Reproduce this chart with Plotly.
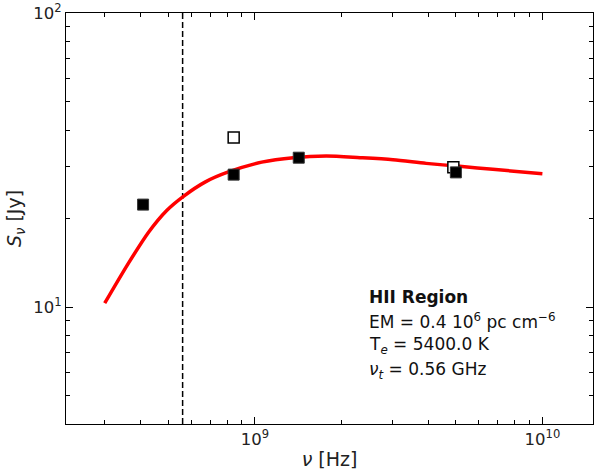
import plotly.graph_objects as go
import math

# Model curve
curve_nu = [3.0e8, 3.63e8, 4.27e8, 4.93e8, 5.64e8, 6.70e8, 8.08e8, 1.055e9, 1.36e9,
            1.77e9, 2.32e9, 3.02e9, 3.94e9, 5.15e9, 6.72e9, 1.0e10]
curve_s = [10.3, 14.1, 18.0, 21.3, 23.8, 26.6, 28.8, 31.1, 32.2,
           32.6, 32.2, 31.7, 30.8, 30.1, 29.4, 28.4]

# Filled data points
filled_nu = [4.08e8, 8.43e8, 1.42e9, 5.0e9]
filled_s = [22.3, 28.2, 32.2, 28.7]

# Open data points
open_nu = [8.43e8, 4.9e9]
open_s = [37.7, 29.9]

nu_t = 5.6e8
y_lim = [4, 100]
x_lim = [2.2e8, 1.5e10]

fig = go.Figure()
fig.add_trace(go.Scatter(x=[nu_t, nu_t], y=y_lim, mode="lines",
                         line=dict(color="black", width=1.5, dash="6px,3px"),
                         showlegend=False, hoverinfo="skip"))
fig.add_trace(go.Scatter(x=curve_nu, y=curve_s, mode="lines",
                         line=dict(color="red", width=3.5, shape="spline", smoothing=0.8),
                         showlegend=False))
fig.add_trace(go.Scatter(x=open_nu, y=open_s, mode="markers",
                         marker=dict(symbol="square", size=11, color="white",
                                     line=dict(color="black", width=1.5)),
                         showlegend=False))
fig.add_trace(go.Scatter(x=filled_nu, y=filled_s, mode="markers",
                         marker=dict(symbol="square", size=11, color="black",
                                     line=dict(color="#333", width=1)),
                         showlegend=False))

x_minor = [k * 10**e for e in (8, 9) for k in range(2, 10)]
x_minor = [v for v in x_minor if x_lim[0] <= v <= x_lim[1]]
y_minor = [k * 10**e for e in (0, 1) for k in range(2, 10)]
y_minor = [v for v in y_minor if y_lim[0] <= v <= y_lim[1]]

tickfont = dict(family="DejaVu Sans", size=16.5, color="#222")
labfont = dict(family="DejaVu Sans", size=19, color="#222")
fig.update_xaxes(type="log", range=[math.log10(x_lim[0]), math.log10(x_lim[1])],
                 showgrid=False, zeroline=False, showline=True, linecolor="black", linewidth=1.3,
                 mirror="ticks", ticks="inside", ticklen=7, tickwidth=1.2, tickcolor="black",
                 tickvals=[1e9, 1e10], ticktext=["10<sup>9</sup>", "10<sup>10</sup>"],
                 tickfont=tickfont, ticklabeloverflow="allow",
                 minor=dict(tickvals=x_minor, ticks="inside", ticklen=4, tickwidth=1.2,
                            tickcolor="black", showgrid=False),
                 title=dict(text="<i>ν</i> [Hz]", font=labfont, standoff=4))
fig.update_yaxes(type="log", range=[math.log10(y_lim[0]), math.log10(y_lim[1])],
                 showgrid=False, zeroline=False, showline=True, linecolor="black", linewidth=1.3,
                 mirror="ticks", ticks="inside", ticklen=7, tickwidth=1.2, tickcolor="black",
                 tickvals=[10, 100], ticktext=["10<sup>1</sup>", "10<sup>2</sup>"],
                 tickfont=tickfont, ticklabeloverflow="allow",
                 minor=dict(tickvals=y_minor, ticks="inside", ticklen=4, tickwidth=1.2,
                            tickcolor="black", showgrid=False),
                 title=dict(text="<i>S</i><sub><i>ν</i></sub> [Jy]", font=labfont, standoff=6))

lines = ["<b>HII Region</b>",
         "EM = 0.4 10<sup>6</sup> pc cm<sup>−6</sup>",
         "T<sub><i>e</i></sub> = 5400.0 K",
         "<i>ν</i><sub><i>t</i></sub> = 0.56 GHz"]
y_px = [296, 320, 345, 370]
for t, yp in zip(lines, y_px):
    fig.add_annotation(text=t, xref="paper", yref="paper",
                       x=(368 - 66) / 528, y=(424 - yp) / 413,
                       xanchor="left", yanchor="middle", showarrow=False,
                       font=dict(family="DejaVu Sans", size=17, color="#111"))

fig.update_layout(width=595, height=475, margin=dict(l=66, r=1, t=11, b=51),
                  plot_bgcolor="white", paper_bgcolor="white")
fig.write_html("out.html")
